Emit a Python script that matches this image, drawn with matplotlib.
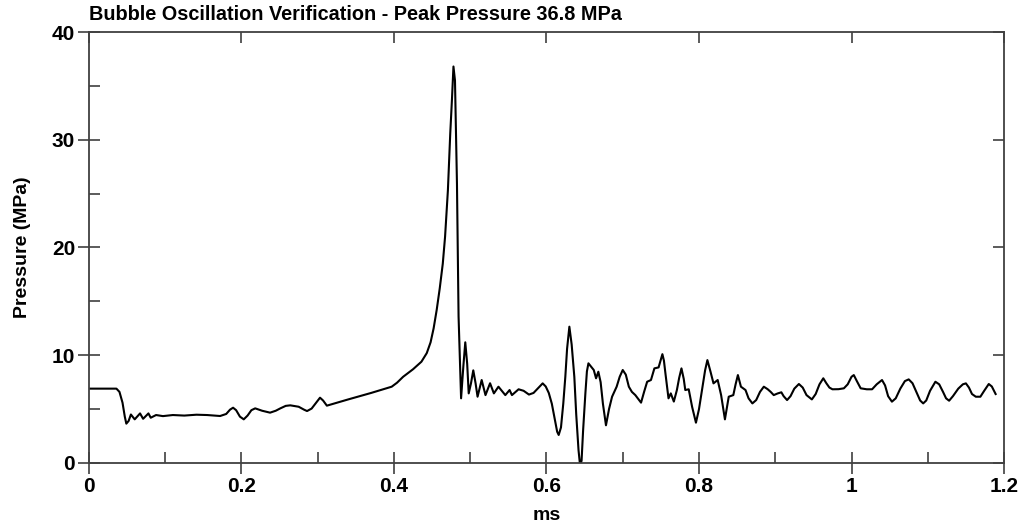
import matplotlib
matplotlib.use("Agg")
import matplotlib.pyplot as plt
from matplotlib.ticker import MultipleLocator, NullLocator

# Measured pressure trace: time (ms) and pressure (MPa)
time_ms = [
    0.000, 0.036, 0.040, 0.044, 0.047, 0.049, 0.052, 0.055, 0.060, 0.067, 0.071,
    0.078, 0.081, 0.088, 0.097, 0.110, 0.125, 0.141, 0.155, 0.172, 0.180, 0.185,
    0.189, 0.193, 0.198, 0.203, 0.208, 0.213, 0.218, 0.227, 0.2375, 0.245, 0.251,
    0.258, 0.264, 0.275, 0.282, 0.286, 0.292, 0.298, 0.303, 0.307, 0.312, 0.340,
    0.370, 0.397, 0.404, 0.412, 0.425, 0.436, 0.443, 0.448, 0.452, 0.456, 0.460,
    0.464, 0.467, 0.4707, 0.4738, 0.476, 0.478, 0.480, 0.4826, 0.4847, 0.488,
    0.491, 0.4935, 0.496, 0.498, 0.501, 0.504, 0.507, 0.5096, 0.515, 0.520,
    0.526, 0.531, 0.537, 0.546, 0.5516, 0.5547, 0.5634, 0.570, 0.577, 0.583,
    0.589, 0.595, 0.599, 0.603, 0.607, 0.611, 0.614, 0.616, 0.619, 0.622,
    0.6247, 0.627, 0.630, 0.633, 0.6365, 0.639, 0.642, 0.644, 0.646, 0.648,
    0.651, 0.653, 0.655, 0.659, 0.662, 0.665, 0.668, 0.671, 0.674, 0.678,
    0.682, 0.686, 0.692, 0.696, 0.700, 0.704, 0.708, 0.712, 0.7165, 0.724,
    0.728, 0.732, 0.737, 0.7415, 0.747, 0.750, 0.752, 0.754, 0.756, 0.760,
    0.763, 0.767, 0.771, 0.774, 0.777, 0.780, 0.782, 0.7865, 0.791, 0.796,
    0.800, 0.804, 0.808, 0.811, 0.815, 0.819, 0.8245, 0.829, 0.834, 0.839,
    0.845, 0.848, 0.851, 0.855, 0.861, 0.865, 0.870, 0.875, 0.880, 0.885,
    0.890, 0.894, 0.898, 0.903, 0.908, 0.911, 0.9155, 0.920, 0.925, 0.931,
    0.936, 0.941, 0.948, 0.953, 0.958, 0.963, 0.967, 0.971, 0.975, 0.983,
    0.990, 0.995, 1.000, 1.003, 1.007, 1.012, 1.020, 1.027, 1.033, 1.040,
    1.044, 1.048, 1.053, 1.058, 1.064, 1.070, 1.075, 1.080, 1.085, 1.090,
    1.094, 1.098, 1.103, 1.110, 1.115, 1.120, 1.124, 1.128, 1.133, 1.140,
    1.146, 1.150, 1.154, 1.158, 1.163, 1.169, 1.174, 1.180, 1.184, 1.189,
]
pressure_mpa = [
    6.90, 6.90, 6.60, 5.60, 4.30, 3.65, 3.90, 4.50, 4.05, 4.60, 4.10,
    4.60, 4.20, 4.45, 4.35, 4.45, 4.40, 4.48, 4.45, 4.36, 4.55, 4.95,
    5.13, 4.90, 4.30, 4.05, 4.40, 4.90, 5.07, 4.85, 4.67, 4.85, 5.07,
    5.30, 5.35, 5.22, 4.95, 4.82, 5.05, 5.60, 6.06, 5.80, 5.32, 5.90,
    6.50, 7.08, 7.45, 8.00, 8.70, 9.40, 10.20, 11.20, 12.50, 14.20, 16.20,
    18.50, 21.00, 25.30, 30.60, 33.70, 36.80, 35.50, 25.90, 13.60, 6.00,
    9.00, 11.20, 9.20, 6.46, 7.40, 8.60, 7.40, 6.15, 7.70, 6.30,
    7.40, 6.46, 7.08, 6.30, 6.77, 6.30, 6.84, 6.70, 6.35, 6.50,
    6.95, 7.39, 7.10, 6.50, 5.50, 4.00, 2.90, 2.60, 3.30, 5.50,
    8.00, 10.60, 12.65, 11.00, 8.00, 4.50, 1.20, -0.20, 0.20, 3.00,
    6.46, 8.50, 9.25, 8.90, 8.63, 7.86, 8.47, 7.50, 5.50, 3.50,
    5.00, 6.15, 7.08, 8.00, 8.63, 8.20, 7.08, 6.60, 6.30, 5.60,
    6.60, 7.54, 7.70, 8.78, 8.87, 9.60, 10.10, 9.50, 8.30, 6.00,
    6.46, 5.70, 6.77, 7.90, 8.78, 7.80, 6.77, 6.84, 5.20, 3.74,
    5.00, 6.77, 8.60, 9.55, 8.50, 7.39, 7.70, 6.30, 4.05, 6.15,
    6.30, 7.30, 8.16, 7.08, 6.77, 6.00, 5.53, 5.84, 6.60, 7.08,
    6.85, 6.60, 6.30, 6.45, 6.56, 6.20, 5.84, 6.20, 6.90, 7.33,
    7.00, 6.30, 5.90, 6.40, 7.30, 7.86, 7.40, 7.00, 6.84, 6.85,
    6.93, 7.30, 8.00, 8.16, 7.60, 6.93, 6.84, 6.84, 7.30, 7.70,
    7.20, 6.20, 5.69, 6.00, 6.90, 7.60, 7.76, 7.40, 6.60, 5.80,
    5.53, 5.80, 6.70, 7.54, 7.30, 6.60, 6.00, 5.78, 6.20, 6.90,
    7.30, 7.39, 7.00, 6.40, 6.15, 6.15, 6.70, 7.33, 7.10, 6.40,
]

x_ticks = [0, 0.2, 0.4, 0.6, 0.8, 1.0, 1.2]
x_tick_labels = ["0", "0.2", "0.4", "0.6", "0.8", "1", "1.2"]
y_ticks = [0, 10, 20, 30, 40]

plt.rcParams["font.family"] = ["Liberation Sans", "DejaVu Sans"]
plt.rcParams["font.weight"] = "bold"

rect = [0.0873, 0.1281, 0.8980, 0.8116]
fig = plt.figure(figsize=(10.19, 5.31), dpi=100)
ax = fig.add_axes(rect)

ax.plot(time_ms, pressure_mpa, color="black", linewidth=1.5,
        solid_joinstyle="round", clip_on=True)

ax.set_xlim(0, 1.2)
ax.set_ylim(0, 40)
ax.set_xticks(x_ticks)
ax.set_xticklabels(x_tick_labels)
ax.set_yticks(y_ticks)
ax.xaxis.set_minor_locator(MultipleLocator(0.1))
ax.yaxis.set_minor_locator(MultipleLocator(5))

spine_color = "#404040"
for spine in ax.spines.values():
    spine.set_color(spine_color)
    spine.set_linewidth(1.3)

# bottom/left: major ticks cross the frame, minor ticks point inward
ax.tick_params(which="major", direction="inout", length=16, width=1.2,
               color=spine_color, labelsize=15, pad=2,
               top=False, right=False)
ax.tick_params(which="minor", direction="in", length=8, width=1.2,
               color=spine_color, top=False, right=False)

# top/right: major ticks only, pointing inward (transparent overlay axes)
frame = fig.add_axes(rect, frameon=False)
frame.set_xlim(0, 1.2)
frame.set_ylim(0, 40)
frame.set_xticks(x_ticks)
frame.set_yticks(y_ticks)
frame.xaxis.set_minor_locator(NullLocator())
frame.yaxis.set_minor_locator(NullLocator())
frame.tick_params(which="major", direction="in", length=8, width=1.2,
                  color=spine_color, top=True, right=True,
                  bottom=False, left=False,
                  labelbottom=False, labelleft=False,
                  labeltop=False, labelright=False)
frame.patch.set_visible(False)

for lbl in ax.get_xticklabels() + ax.get_yticklabels():
    lbl.set_fontweight("bold")

ax.set_xlabel("ms", fontsize=14, fontweight="bold", labelpad=8)
ax.set_ylabel("Pressure (MPa)", fontsize=14, fontweight="bold", labelpad=15)
ax.set_title("Bubble Oscillation Verification - Peak Pressure 36.8 MPa",
             loc="left", fontsize=14.3, fontweight="bold", pad=9)

fig.savefig("out.png", dpi=100, facecolor="white")
